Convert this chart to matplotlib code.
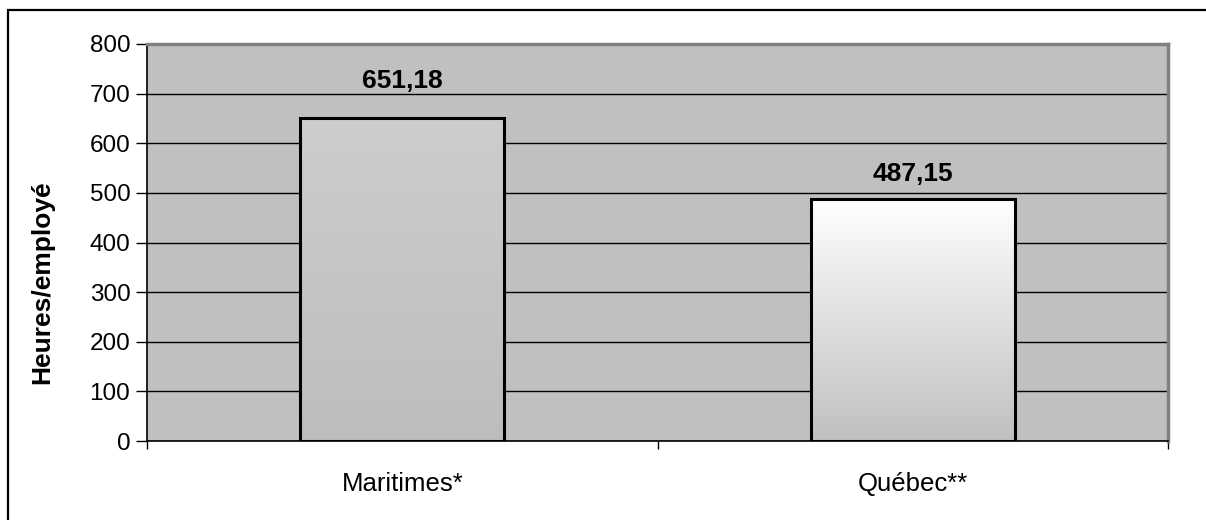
import numpy as np
import matplotlib
matplotlib.use("Agg")
import matplotlib.pyplot as plt
from matplotlib.patches import Rectangle

plt.rcParams['font.family'] = ['Liberation Sans', 'DejaVu Sans']

# Données
regions = ['Maritimes*', 'Québec**']
heures = [651.18, 487.15]
etiquettes = ['651,18', '487,15']
yticks = [0, 100, 200, 300, 400, 500, 600, 700, 800]

# Dégradés (haut -> bas) pour chaque barre et décalage des étiquettes
degrades = [('#cdcdcd', '#bdbdbd'), ('#ffffff', '#c0c0c0')]
decalage = [60, 37]

fig = plt.figure(figsize=(12.06, 5.2), dpi=100)
ax = fig.add_axes([147 / 1206, 79 / 520, 1021 / 1206, 397 / 520])
ax.set_facecolor('#c0c0c0')

# Cadre extérieur
fig.patches.append(Rectangle((8 / 1206, -0.1), 1.2, 1.1 - 10 / 520,
                             transform=fig.transFigure, fill=False,
                             edgecolor='black', linewidth=1.6, zorder=0))

x = np.arange(len(regions))
ax.set_xlim(-0.5, 1.5)
ax.set_ylim(0, 800)
ax.set_yticks(yticks)
ax.yaxis.grid(True, color='black', linewidth=1)
ax.set_axisbelow(True)

bars = ax.bar(x, heures, width=0.4, facecolor='none', edgecolor='black',
              linewidth=2.2, zorder=3)

# Remplissage en dégradé vertical
for bar, (haut, bas) in zip(bars, degrades):
    c1 = np.array(matplotlib.colors.to_rgb(haut))
    c2 = np.array(matplotlib.colors.to_rgb(bas))
    t = np.linspace(0, 1, 256)[:, None]
    grad = (c1 * (1 - t) + c2 * t)[:, None, :]
    x0, y0 = bar.get_x(), bar.get_y()
    im = ax.imshow(grad, extent=(x0, x0 + bar.get_width(), y0, y0 + bar.get_height()),
                   aspect='auto', origin='upper', zorder=2)
    im.set_clip_path(bar)

for xi, h, lab, d in zip(x, heures, etiquettes, decalage):
    ax.text(xi, h + d, lab, ha='center', va='baseline', fontsize=19,
            fontweight='bold')

ax.set_xticks(x)
ax.set_xticklabels(regions, fontsize=18.5)
ax.tick_params(axis='x', which='major', length=0, pad=22)
ax.set_xticks([-0.5, 0.5, 1.5], minor=True)
ax.tick_params(axis='x', which='minor', length=6, width=1, direction='out')
ax.tick_params(axis='y', length=8, width=1, direction='out', labelsize=17.5, pad=4)

ax.set_ylabel('Heures/employé', fontsize=19, fontweight='bold')
ax.yaxis.set_label_coords(-0.091, 0.40)

for side in ['left', 'bottom']:
    ax.spines[side].set_color('black')
    ax.spines[side].set_linewidth(1.2)
for side in ['top', 'right']:
    ax.spines[side].set_color('#808080')
    ax.spines[side].set_linewidth(2.5)

fig.savefig('out.png', dpi=100)
